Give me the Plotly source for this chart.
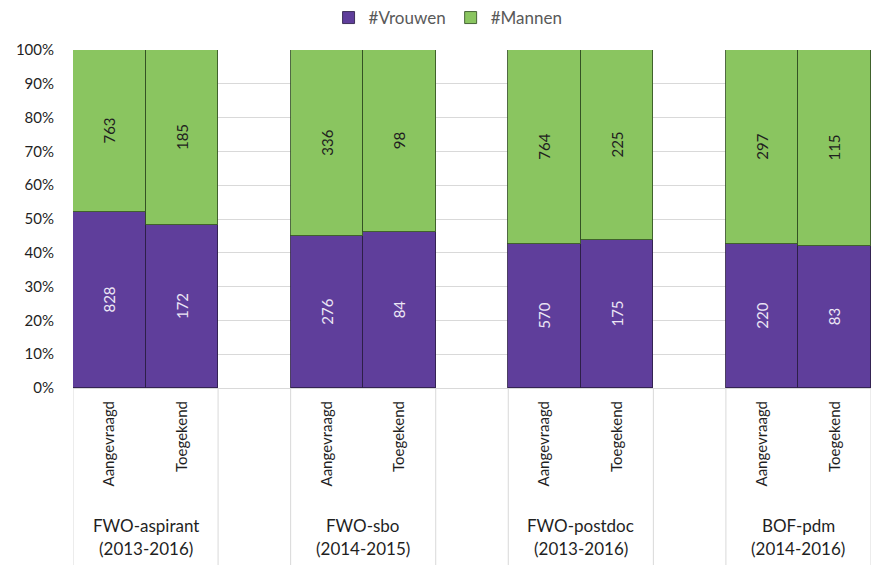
import plotly.graph_objects as go

# Applications vs. awarded grants per funding programme, split by gender
groups = ["FWO-aspirant", "FWO-sbo", "FWO-postdoc", "BOF-pdm"]
periods = ["(2013-2016)", "(2014-2015)", "(2013-2016)", "(2014-2016)"]
stages = ["Aangevraagd", "Toegekend"]

vrouwen = [828, 172, 276, 84, 570, 175, 220, 83]
mannen = [763, 185, 336, 98, 764, 225, 297, 115]

PURPLE = "#5f3e9b"
GREEN = "#8ac560"
FONT = "Lato, 'Open Sans', sans-serif"

# one empty slot between programmes: slot = 3 * group + stage
slot = 3
xpos = [g * slot + s for g in range(len(groups)) for s in range(len(stages))]
sub_labels = [stages[s] for g in range(len(groups)) for s in range(len(stages))]

fig = go.Figure()
fig.add_trace(go.Bar(
    x=xpos, y=vrouwen, name="#Vrouwen",
    marker=dict(color=PURPLE, line=dict(color="rgba(45,30,70,0.85)", width=1)),
    text=vrouwen, texttemplate="%{text}", textposition="inside",
    insidetextanchor="middle", textangle=-90,
    insidetextfont=dict(color="#ece6f5", size=15, family=FONT),
))
fig.add_trace(go.Bar(
    x=xpos, y=mannen, name="#Mannen",
    marker=dict(color=GREEN, line=dict(color="rgba(50,80,35,0.85)", width=1)),
    text=mannen, texttemplate="%{text}", textposition="inside",
    insidetextanchor="middle", textangle=-90,
    insidetextfont=dict(color="#1f1f1f", size=15, family=FONT),
))

# vertical dividers of the category axis, extending below the plot area
bottom = -0.53
edges = []
for g in range(len(groups)):
    left = g * slot - 0.5
    right = g * slot + len(stages) - 0.5
    edges += [left, right]
for e in edges:
    fig.add_shape(type="line", xref="x", yref="paper", x0=e, x1=e,
                  y0=0, y1=bottom, line=dict(color="#d9d9d9", width=1),
                  layer="below")

# programme names under each pair of bars
for g, (name, per) in enumerate(zip(groups, periods)):
    cx = g * slot + (len(stages) - 1) / 2
    fig.add_annotation(x=cx, xref="x", y=-0.408, yref="paper", text=name,
                       showarrow=False, font=dict(size=17, color="#1f1f1f", family=FONT),
                       yanchor="middle")
    fig.add_annotation(x=cx, xref="x", y=-0.476, yref="paper", text=per,
                       showarrow=False, font=dict(size=17, color="#1f1f1f", family=FONT),
                       yanchor="middle")

fig.update_layout(
    width=871, height=565,
    margin=dict(l=73, r=0, t=50, b=177),
    paper_bgcolor="white", plot_bgcolor="white",
    barmode="stack", barnorm="percent", bargap=0,
    font=dict(family=FONT, color="#1f1f1f", size=15),
    legend=dict(orientation="h", x=0.47, xanchor="center", y=1.095, yanchor="middle",
                traceorder="normal",
                font=dict(size=17, color="#595959", family=FONT),
                itemwidth=30, tracegroupgap=0),
    showlegend=True,
)
fig.update_xaxes(
    range=[-0.5, xpos[-1] + 0.5],
    tickmode="array", tickvals=xpos, ticktext=sub_labels, tickangle=-90,
    ticks="", ticklabelstandoff=6,
    showgrid=False, zeroline=False, showline=True, linecolor="#d9d9d9",
    tickfont=dict(size=15, color="#1f1f1f", family=FONT),
)
fig.update_yaxes(
    range=[0, 100], dtick=10, ticksuffix="%",
    showgrid=True, gridcolor="#d9d9d9", gridwidth=1,
    zeroline=False, showline=False, ticks="", ticklabelstandoff=18,
    tickfont=dict(size=15, color="#1f1f1f", family=FONT),
)

fig.write_html("out.html")
